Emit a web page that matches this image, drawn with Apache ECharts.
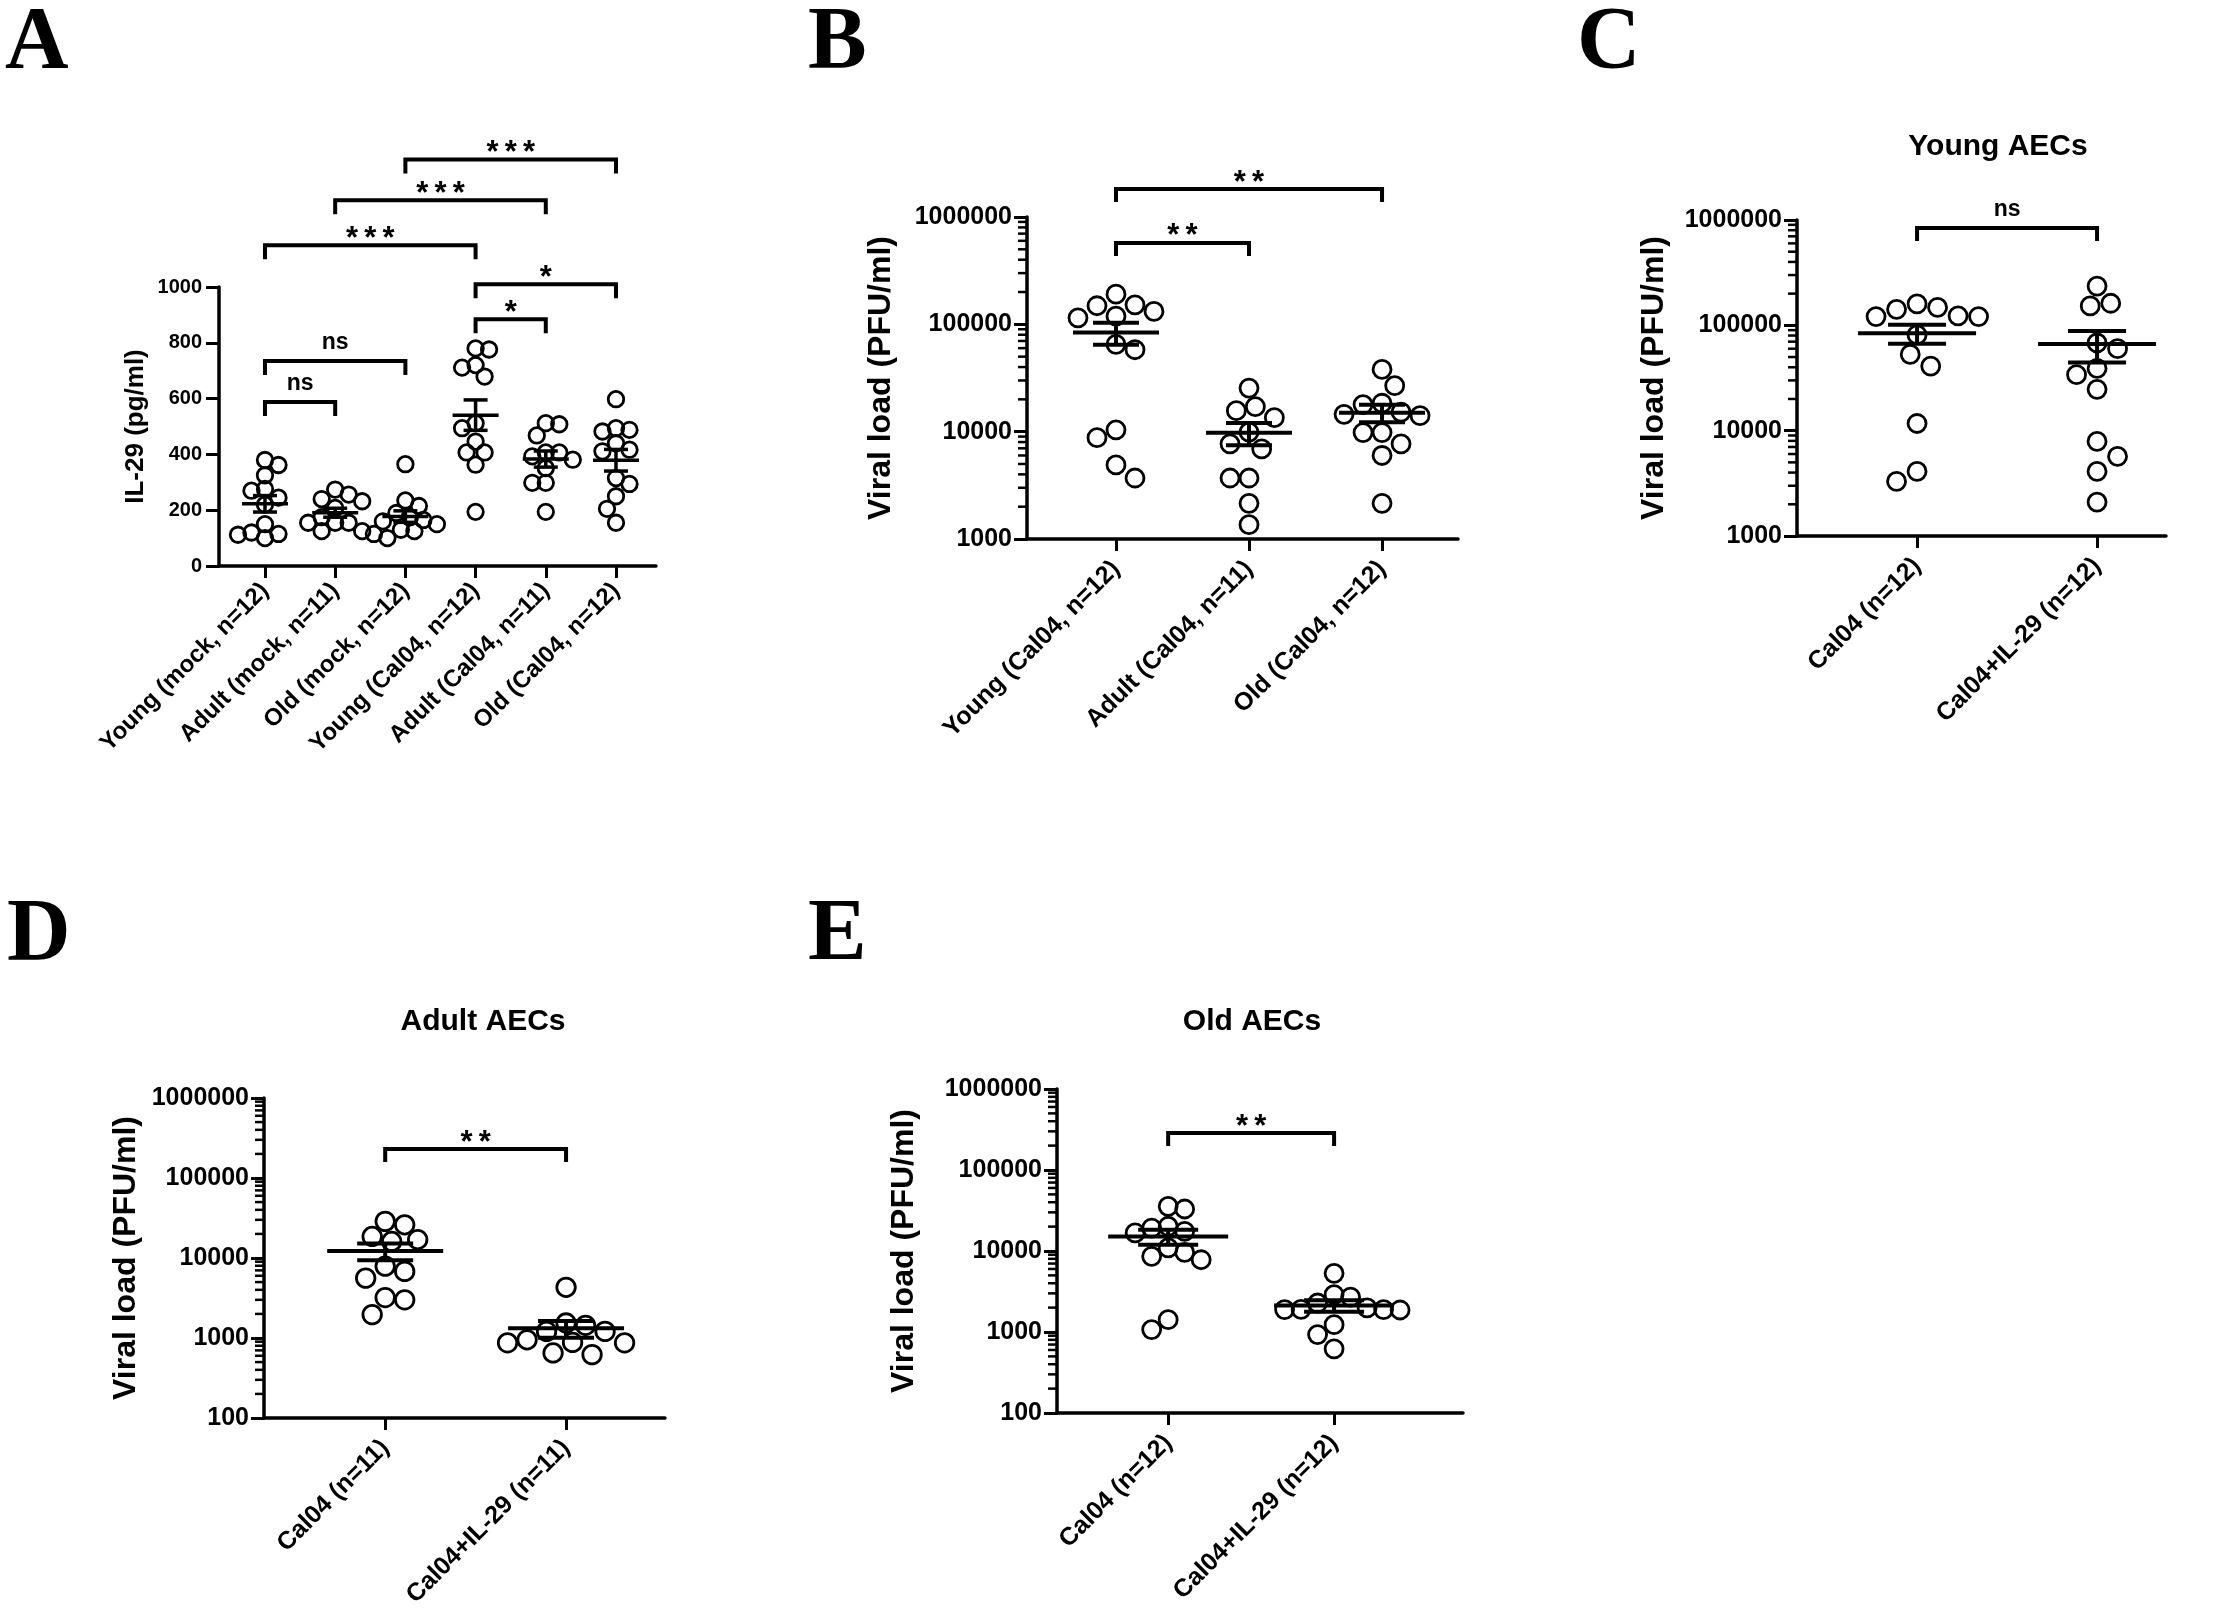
<!DOCTYPE html>
<html><head><meta charset="utf-8">
<script src="https://cdn.jsdelivr.net/npm/echarts@6/dist/echarts.min.js"></script>
<style>html,body{margin:0;padding:0;background:#fff}#c{width:2220px;height:1621px}</style>
</head><body><div id="c"></div>
<script>
// ---------- DATA ----------
// Panel A : IL-29 (pg/ml)
const catsA = ['Young (mock, n=12)', 'Adult (mock, n=11)', 'Old (mock, n=12)', 'Young (Cal04, n=12)', 'Adult (Cal04, n=11)', 'Old (Cal04, n=12)'];
const aYoungMock = [380, 362, 325, 276, 270, 245, 220, 150, 115, 120, 112, 100];
const aAdultMock = [274, 256, 240, 232, 208, 175, 155, 155, 155, 125, 125];
const aOldMock   = [365, 235, 215, 190, 175, 165, 160, 150, 130, 125, 115, 100];
const aYoungCal  = [780, 776, 720, 711, 679, 512, 494, 446, 407, 407, 363, 194];
const aAdultCal  = [512, 508, 468, 407, 407, 393, 381, 351, 298, 298, 194];
const aOldCal    = [598, 494, 488, 482, 440, 417, 411, 315, 294, 250, 205, 155];
const bracketsA = [[0, 1, 588, 'ns'], [0, 2, 735, 'ns'], [3, 4, 884, '*'], [3, 5, 1010, '*'], [0, 3, 1150, '***'], [1, 4, 1311, '***'], [2, 5, 1457, '***']];
const ticksA = [0, 1000, 200];

// Panel B : viral load by age
const catsB = ['Young (Cal04, n=12)', 'Adult (Cal04, n=11)', 'Old (Cal04, n=12)'];
const bYoung = [191000, 152000, 149000, 132000, 119000, 115000, 65000, 58000, 10400, 8800, 4900, 3700];
const bAdult = [25500, 17100, 15700, 13500, 9900, 7700, 6900, 3700, 3700, 2150, 1360];
const bOld   = [38000, 26800, 18400, 17900, 15200, 14500, 14100, 9800, 9800, 7700, 6000, 2150];
const bracketsB = [[0, 1, 574000, '**'], [0, 2, 1820000, '**']];

// Panel C : Young AECs
const catsC = ['Cal04 (n=12)', 'Cal04+IL-29 (n=12)'];
const cCal = [160000, 148000, 142000, 123000, 121000, 121000, 81000, 53000, 41000, 11700, 4100, 3300];
const cIL  = [236000, 162000, 153000, 68000, 60000, 39000, 34000, 24700, 7900, 5700, 4100, 2100];
const bracketsC = [[0, 1, 838000, 'ns']];

// Panel D : Adult AECs
const catsD = ['Cal04 (n=11)', 'Cal04+IL-29 (n=11)'];
const dCal = [28700, 26000, 18600, 17000, 16100, 7900, 6800, 5600, 3200, 3000, 1960];
const dIL  = [4300, 1540, 1440, 1210, 1210, 950, 880, 870, 870, 650, 620];
const bracketsD = [[0, 1, 230000, '**']];

// Panel E : Old AECs
const catsE = ['Cal04 (n=12)', 'Cal04+IL-29 (n=12)'];
const eCal = [35600, 33000, 20200, 19200, 17500, 16700, 10900, 9600, 8600, 7800, 1420, 1070];
const eIL  = [5300, 2900, 2700, 2280, 1980, 1900, 1890, 1890, 1870, 1230, 930, 620];
const bracketsE = [[0, 1, 286000, '**']];

const minorMultipliers = [2, 3, 4, 5, 6, 7, 8, 9];

// ---------- LAYOUT ----------
const FONT = 'Liberation Sans';
const panels = [
  {cats: catsA, groups: [aYoungMock, aAdultMock, aOldMock, aYoungCal, aAdultCal, aOldCal], brackets: bracketsA,
   grid: {left: 219, top: 287, width: 437, height: 279}, xMin: -0.655, xMax: 5.57, log: false, yMin: ticksA[0], yMax: ticksA[1], yInterval: ticksA[2],
   dot: 15.5, sep: 13.5, meanHalf: 23, capHalf: 12, lw: 3.5, yTitle: 'IL-29 (pg/ml)', nameSize: 26, nameGap: 70, yLabelSize: 20, yLabelMargin: 17, xLabelSize: 24, xMargin: 21, leg: 14},
  {cats: catsB, groups: [bYoung, bAdult, bOld], brackets: bracketsB,
   grid: {left: 1027, top: 217, width: 431, height: 322}, xMin: -0.669, xMax: 2.571, log: true, yMin: 1000, yMax: 1000000, decades: 3,
   dot: 18, sep: 19, meanHalf: 43, capHalf: 23, lw: 4, yTitle: 'Viral load (PFU/ml)', nameSize: 32, nameGap: 130, yLabelSize: 25, yLabelMargin: 15, xLabelSize: 25, xMargin: 26, leg: 13},
  {cats: catsC, groups: [cCal, cIL], brackets: bracketsC,
   grid: {left: 1797, top: 220, width: 369, height: 316}, xMin: -0.667, xMax: 1.383, log: true, yMin: 1000, yMax: 1000000, decades: 3,
   dot: 18, sep: 20.5, meanHalf: 59, capHalf: 29, lw: 4, yTitle: 'Viral load (PFU/ml)', nameSize: 32, nameGap: 127, yLabelSize: 25, yLabelMargin: 15, xLabelSize: 25, xMargin: 26, leg: 13,
   title: {text: 'Young AECs', x: 1998, y: 147}},
  {cats: catsD, groups: [dCal, dIL], brackets: bracketsD,
   grid: {left: 264, top: 1098, width: 401, height: 320}, xMin: -0.67, xMax: 1.547, log: true, yMin: 100, yMax: 1000000, decades: 4,
   dot: 18.5, sep: 19.5, meanHalf: 58, capHalf: 28, lw: 4, yTitle: 'Viral load (PFU/ml)', nameSize: 32, nameGap: 122, yLabelSize: 25, yLabelMargin: 15, xLabelSize: 25, xMargin: 26, leg: 13,
   title: {text: 'Adult AECs', x: 483, y: 1022}},
  {cats: catsE, groups: [eCal, eIL], brackets: bracketsE,
   grid: {left: 1057, top: 1089, width: 406, height: 324}, xMin: -0.67, xMax: 1.777, log: true, yMin: 100, yMax: 1000000, decades: 4,
   dot: 18, sep: 16.5, meanHalf: 60, capHalf: 30, lw: 4, yTitle: 'Viral load (PFU/ml)', nameSize: 32, nameGap: 137, yLabelSize: 25, yLabelMargin: 15, xLabelSize: 25, xMargin: 26, leg: 13,
   title: {text: 'Old AECs', x: 1252, y: 1022}}
];
const letters = [['A', 5, 44], ['B', 808, 44], ['C', 1577, 44], ['D', 7, 936], ['E', 808, 936]];

// beeswarm layout (pixel space) so that circles do not pile on top of each other
function swarm(vals, toPx, sep, step) {
  const order = vals.map((v, i) => i).sort((a, b) => vals[b] - vals[a]);
  const placed = [], off = new Array(vals.length).fill(0);
  let toggle = 1;
  for (const i of order) {
    const py = toPx(vals[i]);
    let chosen = 0;
    for (let k = 0; k < 400; k++) {
      const cands = k === 0 ? [0] : [toggle * k * step, -toggle * k * step];
      let ok = null;
      for (const c of cands) {
        if (placed.every(p => (p.x - c) ** 2 + (p.y - py) ** 2 >= sep * sep)) { ok = c; break; }
      }
      if (ok !== null) { chosen = ok; if (k > 0) toggle = -toggle; break; }
    }
    off[i] = chosen;
    placed.push({x: chosen, y: py});
  }
  return off;
}

const grids = [], xAxes = [], yAxes = [], series = [], graphics = [];
panels.forEach((P, pi) => {
  const idx = P.cats.map((c, i) => i);
  grids.push({left: P.grid.left, top: P.grid.top, width: P.grid.width, height: P.grid.height, containLabel: false});
  xAxes.push({
    gridIndex: pi, type: 'value', min: P.xMin, max: P.xMax,
    axisLine: {show: true, onZero: false, lineStyle: {color: '#000', width: 3.5}},
    axisTick: {show: true, inside: false, length: 12, customValues: idx, lineStyle: {color: '#000', width: 3}},
    axisLabel: {show: true, customValues: idx, formatter: v => P.cats[Math.round(v)] || '', rotate: 45, margin: P.xMargin,
      color: '#000', fontFamily: FONT, fontWeight: 'bold', fontSize: P.xLabelSize},
    splitLine: {show: false}
  });
  const ya = {
    gridIndex: pi, type: P.log ? 'log' : 'value', min: P.yMin, max: P.yMax,
    axisLine: {show: true, onZero: false, lineStyle: {color: '#000', width: 3.5}},
    axisTick: {show: true, inside: false, length: 13, lineStyle: {color: '#000', width: 3}},
    axisLabel: {color: '#000', fontFamily: FONT, fontWeight: 'bold', fontSize: P.yLabelSize, margin: P.yLabelMargin,
      formatter: v => String(Math.round(v))},
    splitLine: {show: false},
    name: P.yTitle, nameLocation: 'middle', nameRotate: 90, nameGap: P.nameGap,
    nameTextStyle: {color: '#000', fontFamily: FONT, fontWeight: 'bold', fontSize: P.nameSize}
  };
  if (P.log) { ya.logBase = 10; ya.splitNumber = P.decades; } else { ya.interval = P.yInterval; }
  yAxes.push(ya);

  const lo = P.log ? Math.log10(P.yMin) : P.yMin, hi = P.log ? Math.log10(P.yMax) : P.yMax;
  const toPx = v => ((P.log ? Math.log10(v) : v) - lo) / (hi - lo) * P.grid.height;
  const unitPerPx = (P.xMax - P.xMin) / P.grid.width;

  // points
  P.groups.forEach((vals, gi) => {
    const off = swarm(vals, toPx, P.sep, P.sep / 3);
    series.push({
      type: 'scatter', xAxisIndex: pi, yAxisIndex: pi, silent: true, z: 2,
      data: vals.map((v, i) => [gi + off[i] * unitPerPx, v]),
      symbol: 'circle', symbolSize: P.dot,
      itemStyle: {color: 'rgba(255,255,255,0)', borderColor: '#000', borderWidth: 2.8, opacity: 1}
    });
  });

  // mean +/- SEM
  const stats = P.groups.map((vals, gi) => {
    const n = vals.length, m = vals.reduce((a, b) => a + b, 0) / n;
    const sd = Math.sqrt(vals.reduce((a, b) => a + (b - m) ** 2, 0) / (n - 1));
    return [gi, m, sd / Math.sqrt(n)];
  });
  series.push({
    type: 'custom', xAxisIndex: pi, yAxisIndex: pi, silent: true, z: 5, clip: false,
    data: stats, encode: {x: 0, y: 1},
    renderItem: (params, api) => {
      const x = api.value(0), m = api.value(1), s = api.value(2);
      const c = api.coord([x, m]), t = api.coord([x, m + s]), b = api.coord([x, m - s]);
      const st = {stroke: '#000', lineWidth: P.lw};
      return {type: 'group', children: [
        {type: 'line', shape: {x1: c[0] - P.meanHalf, y1: c[1], x2: c[0] + P.meanHalf, y2: c[1]}, style: st},
        {type: 'line', shape: {x1: c[0], y1: t[1], x2: c[0], y2: b[1]}, style: st},
        {type: 'line', shape: {x1: c[0] - P.capHalf, y1: t[1], x2: c[0] + P.capHalf, y2: t[1]}, style: st},
        {type: 'line', shape: {x1: c[0] - P.capHalf, y1: b[1], x2: c[0] + P.capHalf, y2: b[1]}, style: st}
      ]};
    }
  });

  // minor ticks on log axes
  if (P.log) {
    const minor = [];
    for (let e = Math.round(lo); e < Math.round(hi); e++) for (const mm of minorMultipliers) minor.push([P.xMin, mm * Math.pow(10, e)]);
    series.push({
      type: 'custom', xAxisIndex: pi, yAxisIndex: pi, silent: true, z: 6, clip: false,
      data: minor, encode: {x: 0, y: 1},
      renderItem: (params, api) => {
        const p = api.coord([api.value(0), api.value(1)]);
        return {type: 'line', shape: {x1: p[0] - 9, y1: p[1], x2: p[0], y2: p[1]}, style: {stroke: '#000', lineWidth: 2.5}};
      }
    });
  }

  // significance brackets
  series.push({
    type: 'custom', xAxisIndex: pi, yAxisIndex: pi, silent: true, z: 6, clip: false,
    data: P.brackets.map(b => [b[0], b[1], b[2]]), encode: {x: [0, 1], y: 2},
    renderItem: (params, api) => {
      const lab = P.brackets[params.dataIndex][3];
      const star = lab.indexOf('*') >= 0;
      const p1 = api.coord([api.value(0), api.value(2)]), p2 = api.coord([api.value(1), api.value(2)]);
      return {type: 'group', children: [
        {type: 'polyline', shape: {points: [[p1[0], p1[1] + P.leg], [p1[0], p1[1]], [p2[0], p2[1]], [p2[0], p2[1] + P.leg]]},
         style: {stroke: '#000', lineWidth: 4, fill: null, lineJoin: 'miter'}},
        {type: 'text', x: (p1[0] + p2[0]) / 2, y: p1[1] - (star ? 6 : 18),
         style: {text: star ? lab.split('').join('\u2009') : lab, fill: '#000', fontFamily: FONT, fontWeight: 'bold',
                 fontSize: star ? 31 : 23, align: 'center', verticalAlign: 'middle'}}
      ]};
    }
  });

  if (P.title) {
    graphics.push({type: 'text', x: P.title.x, y: P.title.y, silent: true,
      style: {text: P.title.text, fill: '#000', fontFamily: FONT, fontWeight: 'bold', fontSize: 30, align: 'center', verticalAlign: 'middle'}});
  }
});
letters.forEach(L => graphics.push({type: 'text', x: L[1], y: L[2], silent: true,
  style: {text: L[0], fill: '#000', fontFamily: 'Liberation Serif', fontWeight: 'bold', fontSize: 88, align: 'left', verticalAlign: 'middle'}}));

const chart = echarts.init(document.getElementById('c'), null, {renderer: 'canvas', width: 2220, height: 1621});
chart.setOption({
  backgroundColor: '#fff', animation: false,
  grid: grids, xAxis: xAxes, yAxis: yAxes, series: series, graphic: graphics
});
</script></body></html>
